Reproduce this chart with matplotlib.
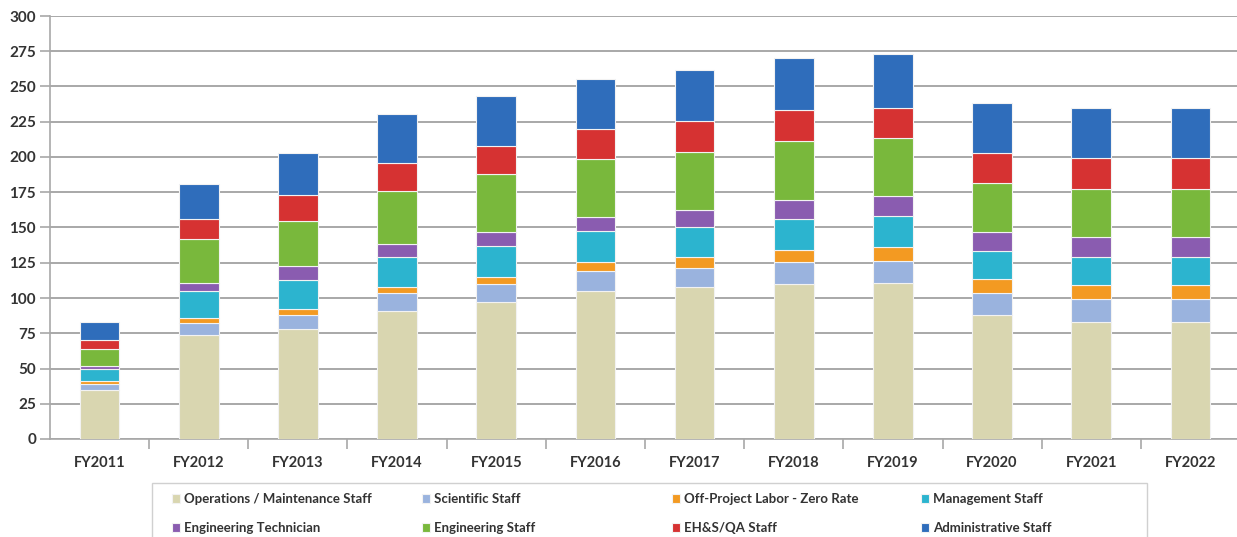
import numpy as np
import matplotlib
matplotlib.use('Agg')
import matplotlib.pyplot as plt
from matplotlib.patches import Rectangle

plt.rcParams['font.family'] = ['Lato', 'DejaVu Sans']

# data
years = ['FY2011', 'FY2012', 'FY2013', 'FY2014', 'FY2015', 'FY2016',
         'FY2017', 'FY2018', 'FY2019', 'FY2020', 'FY2021', 'FY2022']
ops_staff = [35, 74, 78, 91, 97, 105, 107.5, 110, 110.5, 88, 83, 83]
scientific = [4, 8, 10, 12.5, 13, 14, 14, 15.5, 16, 15.5, 16, 16]
off_project = [2, 3.5, 4, 4.5, 5, 6.5, 7.5, 8.5, 10, 10, 10, 10]
management = [9, 19.5, 21, 21, 22, 22, 21.5, 22, 21.5, 19.5, 20, 20]
eng_tech = [1.5, 5.5, 9.5, 9, 10, 10, 12, 13.5, 14, 14, 14, 14]
eng_staff = [12.5, 31, 32, 38, 41, 41, 41, 41.5, 41.5, 34.5, 34, 34]
ehs_qa = [6.5, 14.5, 18.5, 19.5, 20, 21.5, 22, 22, 21.5, 21.5, 22.5, 22.5]
admin = [12.5, 24.5, 30, 35, 35.5, 35.5, 36.5, 37, 38, 35.5, 35, 35]

series = [
    ('Operations / Maintenance Staff', ops_staff, '#d9d6b0'),
    ('Scientific Staff', scientific, '#9ab3de'),
    ('Off-Project Labor - Zero Rate', off_project, '#f39a22'),
    ('Management Staff', management, '#2cb4cf'),
    ('Engineering Technician', eng_tech, '#8a5cb0'),
    ('Engineering Staff', eng_staff, '#79b83c'),
    ('EH&S/QA Staff', ehs_qa, '#d63232'),
    ('Administrative Staff', admin, '#2f6dbb'),
]

W, H = 1237, 537
fig = plt.figure(figsize=(W / 100, H / 100), dpi=100)
ax = fig.add_axes([50 / W, (H - 439) / H, 1190 / W, 423 / H])

x = np.arange(len(years))
bottom = np.zeros(len(years))
handles = []
for name, vals, col in series:
    vals = np.array(vals, dtype=float)
    b = ax.bar(x, vals, width=0.4, bottom=bottom, color=col,
               edgecolor='#f2f2f2', linewidth=0.8, label=name, zorder=3)
    handles.append(b)
    bottom += vals

ax.set_xlim(-0.5, 11.5)
ax.set_ylim(0, 300)
ax.set_yticks(np.arange(0, 301, 25))
ax.yaxis.grid(True, color='#a8a8a8', linewidth=1.4, zorder=0)
ax.set_axisbelow(True)

ax.set_xticks(x)
ax.set_xticklabels(years, fontsize=10.5, fontweight='bold', color='#333333')
ax.set_xticks(np.arange(0.5, 11.5, 1), minor=True)
ax.tick_params(axis='x', which='major', length=0, pad=12)
ax.tick_params(axis='x', which='minor', length=7, color='#a8a8a8', width=1.2)
ax.tick_params(axis='y', length=7, color='#a8a8a8', width=1.2, pad=3,
               labelsize=11, labelcolor='#333333')
for lab in ax.get_yticklabels():
    lab.set_fontweight('bold')

for s in ['top', 'right']:
    ax.spines[s].set_visible(False)
for s in ['left', 'bottom']:
    ax.spines[s].set_color('#a8a8a8')
    ax.spines[s].set_linewidth(1.2)

# legend box
fig.add_artist(Rectangle((152 / W, -0.05), (1147 - 152) / W, (H - 483) / H + 0.05,
                         transform=fig.transFigure, facecolor='white',
                         edgecolor='#d0d0d0', linewidth=1.0))

# legend, one column at a time (row-wise order as in the original)
col_x = [172, 422, 672, 921]
for c in range(4):
    idx = [c, c + 4]
    leg = fig.legend([handles[i] for i in idx], [series[i][0] for i in idx],
                     loc='upper left', bbox_to_anchor=(col_x[c] / W, (H - 493) / H),
                     frameon=False, fontsize=9.5, handlelength=0.6,
                     handleheight=0.6, handletextpad=0.3, labelspacing=1.3,
                     borderpad=0, borderaxespad=0)
    for t in leg.get_texts():
        t.set_fontweight('bold')
        t.set_color('#333333')

fig.savefig('out.png', dpi=100)
